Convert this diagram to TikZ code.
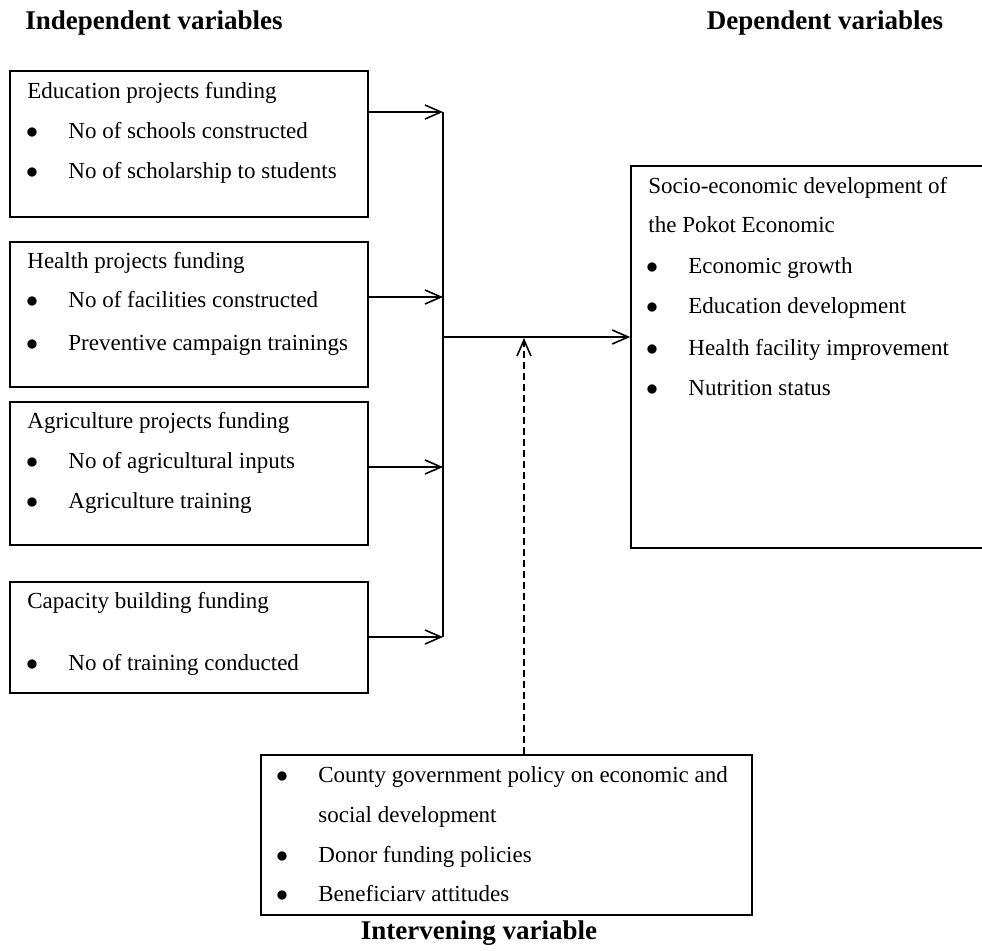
\documentclass[tikz,border=0pt]{standalone}
\usepackage{fontspec}
\setmainfont{Liberation Serif}
\usetikzlibrary{positioning,fit,arrows.meta}

\begin{document}
\begin{tikzpicture}[x=0.5pt, y=-0.5pt,
    box/.style={draw, line width=0.8pt, inner sep=0pt},
    txt/.style={anchor=west, inner sep=0pt, text height=8pt, text depth=2.5pt, font=\fontsize{11.5}{14}\selectfont},
    dot/.style={inner sep=0pt, text height=8pt, text depth=2.5pt, font=\fontsize{11.5}{14}\selectfont},
    head/.style={inner sep=0pt, font=\fontsize{13.5}{16}\selectfont\bfseries},
    line/.style={line width=0.8pt},
    link/.style={line width=0.8pt, -{Straight Barb[length=8pt,width=7pt]}},
    dashlink/.style={link, dash pattern=on 3.5pt off 2pt}]
      \clip (0,0) rectangle (982,950);

      % headings
      \node[head, anchor=west] (indep) at (25,23) {Independent variables};
      \node[head] (dep) at (825,23) {Dependent variables};
      \node[head] (intv) at (479,933) {Intervening variable};

      % independent variables
      \node[box, fit={(10,71) (368,217)}] (edu) {};
      \node[txt] (edut) at (27,93) {Education projects funding};
      \foreach \y/\t [count=\i] in {133/No of schools constructed, 173/No of scholarship to students} {
        \node[dot] (edud\i) at (32,\y) {$\bullet$};
        \node[txt] (edui\i) at (68,\y) {\t};
      }

      \node[box, fit={(10,242) (368,387)}] (health) {};
      \node[txt] (healtht) at (27,263) {Health projects funding};
      \foreach \y/\t [count=\i] in {302/No of facilities constructed, 345/Preventive campaign trainings} {
        \node[dot] (healthd\i) at (32,\y) {$\bullet$};
        \node[txt] (healthi\i) at (68,\y) {\t};
      }

      \node[box, fit={(10,402) (368,545)}] (agri) {};
      \node[txt] (agrit) at (27,423) {Agriculture projects funding};
      \foreach \y/\t [count=\i] in {463/No of agricultural inputs, 503/Agriculture training} {
        \node[dot] (agrid\i) at (32,\y) {$\bullet$};
        \node[txt] (agrii\i) at (68,\y) {\t};
      }

      \node[box, fit={(10,582) (368,693)}] (cap) {};
      \node[txt] (capt) at (27,603) {Capacity building funding};
      \node[dot] (capd1) at (32,665) {$\bullet$};
      \node[txt] (capi1) at (68,665) {No of training conducted};

      % dependent variable
      \node[box, fit={(631,166) (1000,548)}] (socio) {};
      \node[txt] (sociot1) at (648,188) {Socio-economic development of};
      \node[txt] (sociot2) at (648,227) {the Pokot Economic};
      \foreach \y/\t [count=\i] in {268/Economic growth, 308/Education development, 350/Health facility improvement, 390/Nutrition status} {
        \node[dot] (sociod\i) at (652,\y) {$\bullet$};
        \node[txt] (socioi\i) at (688,\y) {\t};
      }

      % intervening variable
      \node[box, fit={(261,755) (752,915)}] (interv) {};
      \node[dot] (intervd1) at (282,777) {$\bullet$};
      \node[txt] (intervi1) at (318,777) {County government policy on economic and};
      \node[txt] (intervi1b) at (318,817) {social development};
      \node[dot] (intervd2) at (282,857) {$\bullet$};
      \node[txt] (intervi2) at (318,857) {Donor funding policies};
      \node[dot] (intervd3) at (282,896) {$\bullet$};
      \node[txt] (intervi3) at (318,896) {Beneficiarv attitudes};

      % connectors
      \coordinate (j1) at (443,112);
      \coordinate (j2) at (443,297);
      \coordinate (j3) at (443,467);
      \coordinate (j4) at (443,637);
      \coordinate (jmid) at (443,337);
      \coordinate (tip) at (524,338);

      \draw[line] (j1) -- (j4);
      \draw[link] (edu.east |- j1) -- (j1);
      \draw[link] (health.east |- j2) -- (j2);
      \draw[link] (agri.east |- j3) -- (j3);
      \draw[link] (cap.east |- j4) -- (j4);
      \draw[link] (jmid) -- (socio.west |- jmid);
      \draw[dashlink] (interv.north -| tip) -- (tip);
    \end{tikzpicture}
\end{document}
